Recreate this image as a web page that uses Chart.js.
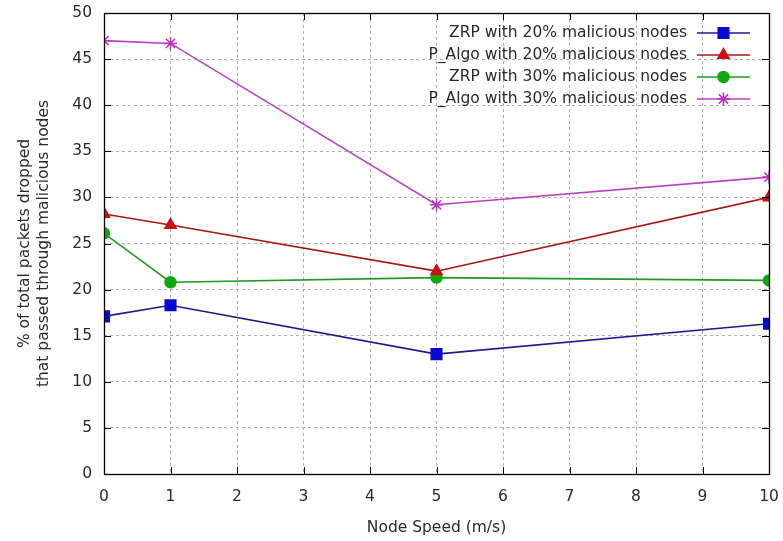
<!DOCTYPE html>
<html>
<head>
<meta charset="utf-8">
<script src="https://cdn.jsdelivr.net/npm/chart.js@4.4.0/dist/chart.umd.min.js"></script>
<style>
  html, body { margin: 0; padding: 0; background: #fff; }
  #wrap { width: 783px; height: 541px; }
</style>
</head>
<body>
<div id="wrap"><canvas id="c" width="783" height="541"></canvas></div>
<script>
const speeds = [0, 1, 5, 10]
const zrp20 = [17.1, 18.3, 13.0, 16.3]
const algo20 = [28.2, 27.0, 22.0, 30.0]
const zrp30 = [26.1, 20.8, 21.3, 21.0]
const algo30 = [47.0, 46.7, 29.2, 32.2]

const seriesLabels = [
	'ZRP with 20% malicious nodes',
	'P_Algo with 20% malicious nodes',
	'ZRP with 30% malicious nodes',
	'P_Algo with 30% malicious nodes'
]
const xTitle = 'Node Speed (m/s)'
const yTitle = ['% of total packets dropped', 'that passed through malicious nodes']

const FONT = 'DejaVu Sans'
const TEXT = '#2a2a2a'

function toPoints(values) {
	return values.map((v, i) => ({ x: speeds[i], y: v }))
}

function makeSet(label, values, line, fill, style, radius) {
	return {
		label,
		data: toPoints(values),
		borderColor: line,
		backgroundColor: fill,
		pointBorderColor: fill,
		pointBackgroundColor: fill,
		pointStyle: style,
		pointRadius: radius,
		pointBorderWidth: 1.5,
		borderWidth: 1.6,
		tension: 0
	}
}

// gnuplot style frame: full border + inward tick marks
const framePlugin = {
	id: 'frame',
	afterDatasetsDraw(chart) {
		const { ctx, chartArea: a, scales } = chart
		ctx.save()
		ctx.strokeStyle = '#000'
		ctx.lineWidth = 1
		ctx.beginPath()
		scales.y.ticks.forEach(t => {
			const y = Math.round(scales.y.getPixelForValue(t.value)) + 0.5
			ctx.moveTo(a.left, y); ctx.lineTo(a.left + 7, y)
			ctx.moveTo(a.right, y); ctx.lineTo(a.right - 7, y)
		})
		scales.x.ticks.forEach(t => {
			const x = Math.round(scales.x.getPixelForValue(t.value)) + 0.5
			ctx.moveTo(x, a.bottom); ctx.lineTo(x, a.bottom - 7)
			ctx.moveTo(x, a.top); ctx.lineTo(x, a.top + 7)
		})
		ctx.stroke()
		ctx.lineWidth = 1.3
		ctx.strokeRect(a.left + 0.5, a.top + 0.5, a.right - a.left, a.bottom - a.top)
		ctx.restore()
	}
}

// legend inside the plot, text right aligned with sample on the right
const keyPlugin = {
	id: 'key',
	afterDatasetsDraw(chart) {
		const { ctx, chartArea: a } = chart
		const textRight = a.right - 82
		const lineL = a.right - 72
		const lineR = a.right - 19
		ctx.save()
		ctx.font = '15.5px ' + FONT
		ctx.textAlign = 'right'
		ctx.textBaseline = 'middle'
		chart.data.datasets.forEach((ds, i) => {
			const y = a.top + 20 + i * 22
			ctx.fillStyle = TEXT
			ctx.fillText(ds.label, textRight, y)
			ctx.strokeStyle = ds.borderColor
			ctx.lineWidth = ds.borderWidth
			ctx.beginPath()
			ctx.moveTo(lineL, y); ctx.lineTo(lineR, y)
			ctx.stroke()
			ctx.fillStyle = ds.pointBackgroundColor
			ctx.strokeStyle = ds.pointBorderColor
			ctx.lineWidth = ds.pointBorderWidth
			Chart.helpers.drawPoint(ctx, { pointStyle: ds.pointStyle, radius: ds.pointRadius, borderWidth: ds.pointBorderWidth, rotation: 0 }, (lineL + lineR) / 2, y)
		})
		ctx.restore()
	}
}

const gridStyle = {
	color: '#b0b0b0',
	lineWidth: 1,
	drawTicks: false
}

new Chart(document.getElementById('c'), {
	type: 'line',
	data: {
		datasets: [
			makeSet(seriesLabels[0], zrp20, '#1c1c8c', '#0808d0', 'rect', 7.5),
			makeSet(seriesLabels[1], algo20, '#a81818', '#d01010', 'triangle', 6.5),
			makeSet(seriesLabels[2], zrp30, '#1f9a1f', '#10a810', 'circle', 5.5),
			makeSet(seriesLabels[3], algo30, '#b840c0', '#c030c8', 'star', 6.5)
		]
	},
	options: {
		responsive: false,
		animation: false,
		layout: { padding: { left: 16, right: 14, top: 13, bottom: 0 } },
		plugins: {
			legend: { display: false },
			tooltip: { enabled: false }
		},
		scales: {
			x: {
				type: 'linear',
				min: 0,
				max: 10,
				ticks: { stepSize: 1, padding: 14, color: TEXT, font: { family: FONT, size: 15.5 } },
				grid: gridStyle,
				border: { display: false, dash: [3, 3] },
				title: { display: true, text: xTitle, color: TEXT, font: { family: FONT, size: 15.5 }, padding: { top: 4 } },
				afterFit(s) { s.height = 67; s.paddingLeft = 0; s.paddingRight = 0 }
			},
			y: {
				min: 0,
				max: 50,
				ticks: { stepSize: 5, padding: 12, color: TEXT, font: { family: FONT, size: 15.5 } },
				grid: gridStyle,
				border: { display: false, dash: [3, 3] },
				title: { display: true, text: yTitle, color: TEXT, font: { family: FONT, size: 15.5, lineHeight: 1.2 }, padding: 0 },
				afterFit(s) { s.width = 88; s.paddingTop = 0; s.paddingBottom = 0 }
			}
		}
	},
	plugins: [framePlugin, keyPlugin]
})
</script>
</body>
</html>
